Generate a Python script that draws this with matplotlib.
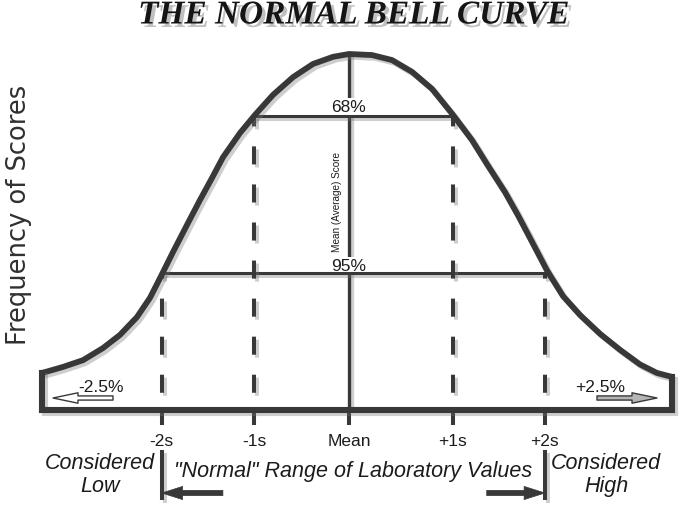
import matplotlib
matplotlib.use('Agg')  # no display

import matplotlib.pyplot as plt
import matplotlib.patheffects as pe

# -------------------------
# Data (x in sigma units from the mean, y = relative frequency, peak = 1)
# -------------------------
curve_x = [-3.165, -2.948, -2.742, -2.536, -2.361, -2.186, -2.052, -1.938, -1.814,
           -1.670, -1.536, -1.412, -1.299, -1.124, -0.969, -0.784, -0.577, -0.371,
           -0.165, 0.000, 0.237, 0.443, 0.649, 0.856, 1.072, 1.268, 1.433, 1.608,
           1.742, 1.866, 2.041, 2.206, 2.381, 2.588, 2.794, 3.000, 3.175, 3.330]
curve_y = [0.104, 0.121, 0.140, 0.174, 0.211, 0.261, 0.315, 0.376, 0.444,
           0.520, 0.590, 0.652, 0.710, 0.778, 0.829, 0.885, 0.935, 0.972,
           0.992, 1.000, 0.997, 0.983, 0.950, 0.902, 0.829, 0.758, 0.686, 0.612,
           0.547, 0.483, 0.392, 0.320, 0.267, 0.214, 0.169, 0.128, 0.104, 0.093]

tick_pos = [-1.93, -0.98, 0.0, 1.07, 2.02]
tick_labels = ["-2s", "-1s", "Mean", "+1s", "+2s"]

level_68 = 0.826
level_95 = 0.385
band_labels = ["68%", "95%"]
tail_labels = ["-2.5%", "+2.5%"]

# -------------------------
# Style
# -------------------------
W, H = 685, 515
BASE_PX, UNIT_PX = 410, 356          # baseline pixel row, pixels per unit frequency
INK = '#383838'
TXT = '#1c1c1c'

plt.rcParams['font.family'] = ['Liberation Sans', 'DejaVu Sans']
plt.rcParams['lines.scale_dashes'] = False

shadow = [pe.SimpleLineShadow(offset=(2, -2), shadow_color='0.45', alpha=0.35), pe.Normal()]


def to_y(p):
    return (BASE_PX - p) / UNIT_PX


fig = plt.figure(figsize=(W / 100, H / 100), dpi=100)
ax = fig.add_axes([42 / W, (H - BASE_PX) / H, 630 / W, BASE_PX / H])
ax.set_xlim(curve_x[0], curve_x[-1])
ax.set_ylim(0, BASE_PX / UNIT_PX)

# -------------------------
# Bell outline (curve + side walls + baseline)
# -------------------------
ax.plot(curve_x, curve_y, color=INK, lw=4.2, solid_joinstyle='round', solid_capstyle='butt',
        clip_on=False, path_effects=shadow, zorder=5)
wx = [curve_x[-1], curve_x[-1], curve_x[0], curve_x[0]]
wy = [curve_y[-1], 0, 0, curve_y[0]]
ax.plot(wx, wy, color=INK, lw=4.4, solid_joinstyle='miter', solid_capstyle='projecting',
        clip_on=False, path_effects=shadow, zorder=5)

# mean line
ax.plot([0, 0], [0, 1.0], color=INK, lw=2.4, path_effects=shadow, zorder=1)

# 68% / 95% bands
ax.plot([tick_pos[1], tick_pos[3]], [level_68] * 2, color=INK, lw=2.2,
        path_effects=shadow, zorder=3)
ax.plot([tick_pos[0], tick_pos[4]], [level_95] * 2, color=INK, lw=2.2,
        path_effects=shadow, zorder=3)

dash = (15, (13, 14.4))
for i in (1, 3):
    ax.plot([tick_pos[i]] * 2, [0, level_68], color=INK, lw=2.9, ls=dash,
            path_effects=shadow, zorder=3)
for i in (0, 4):
    ax.plot([tick_pos[i]] * 2, [0, level_95], color=INK, lw=2.9, ls=dash,
            path_effects=shadow, zorder=3)

ax.annotate(band_labels[0], xy=(0, level_68), xytext=(0, 3), textcoords='offset points',
            ha='center', va='baseline', fontsize=12.5, color=TXT,
            bbox=dict(fc='white', ec='none', pad=1.0), zorder=2)
ax.annotate(band_labels[1], xy=(0, level_95), xytext=(0, 1.5), textcoords='offset points',
            ha='center', va='baseline', fontsize=12.5, color=TXT,
            bbox=dict(fc='white', ec='none', pad=1.0), zorder=2)

ax.text(-0.124, to_y(202), "Mean (Average) Score", rotation=90, ha='center', va='center',
        fontsize=7.2, color=TXT, fontstretch='condensed')

# -------------------------
# Axis ticks
# -------------------------
ax.set_xticks(tick_pos, tick_labels)
ax.set_yticks([])
ax.tick_params(axis='x', length=11, width=2.9, color=INK, pad=6,
               labelsize=12.5, labelcolor=TXT)
for s in ax.spines.values():
    s.set_visible(False)
ax.patch.set_alpha(0)

# -------------------------
# Tail arrows (hollow)
# -------------------------
hollow = 'simple,head_length=1.8,head_width=0.75,tail_width=0.3'
ax.annotate('', xy=(53, H - 398), xytext=(113, H - 398), xycoords='figure pixels',
            arrowprops=dict(arrowstyle=hollow, fc='white', ec=INK, lw=1,
                            shrinkA=0, shrinkB=0, mutation_scale=10))
ax.annotate('', xy=(657, H - 398), xytext=(597, H - 398), xycoords='figure pixels',
            arrowprops=dict(arrowstyle=hollow, fc='#b5b5b5', ec=INK, lw=1,
                            shrinkA=0, shrinkB=0, mutation_scale=10))
fig.text(101 / W, 1 - 387 / H, tail_labels[0], ha='center', va='center',
         fontsize=12.5, color=TXT)
fig.text(600 / W, 1 - 387 / H, tail_labels[1], ha='center', va='center',
         fontsize=12.5, color=TXT)

# -------------------------
# Normal range bracket
# -------------------------
for x in (tick_pos[0], tick_pos[-1]):
    ax.plot([x, x], [to_y(452), to_y(498)], color=INK, lw=2.9, clip_on=False,
            path_effects=shadow)

solid = 'simple,head_length=1.5,head_width=0.95,tail_width=0.38'
ax.annotate('', xy=(tick_pos[0], to_y(493)), xytext=(tick_pos[0] + 0.63, to_y(493)),
            annotation_clip=False,
            arrowprops=dict(arrowstyle=solid, fc=INK, ec=INK, lw=0.5,
                            shrinkA=0, shrinkB=0, mutation_scale=10))
ax.annotate('', xy=(tick_pos[-1], to_y(493)), xytext=(tick_pos[-1] - 0.60, to_y(493)),
            annotation_clip=False,
            arrowprops=dict(arrowstyle=solid, fc=INK, ec=INK, lw=0.5,
                            shrinkA=0, shrinkB=0, mutation_scale=10))

fig.text(100 / W, 1 - 475 / H, "Considered\nLow", ha='center', va='center',
         fontsize=15.5, style='italic', color=TXT, linespacing=1.1)
fig.text(606 / W, 1 - 475 / H, "Considered\nHigh", ha='center', va='center',
         fontsize=15.5, style='italic', color=TXT, linespacing=1.1)
fig.text(353 / W, 1 - 472 / H, "\"Normal\" Range of Laboratory Values", ha='center',
         va='center', fontsize=15.5, style='italic', color=TXT)

# -------------------------
# Title and y label
# -------------------------
fig.text(354 / W, 1 - 15 / H, "THE NORMAL BELL CURVE", ha='center', va='center',
         family='Liberation Serif', weight='bold', style='italic', fontsize=24,
         color='#151515',
         path_effects=[pe.withSimplePatchShadow(offset=(2.5, -2.5), shadow_rgbFace='0.3',
                                                alpha=0.35)])
fig.text(19 / W, 1 - 215 / H, "Frequency of Scores", rotation=90, ha='center', va='center',
         family='DejaVu Sans', fontsize=18.5, color='#303030')

fig.savefig("out.png", dpi=100)
